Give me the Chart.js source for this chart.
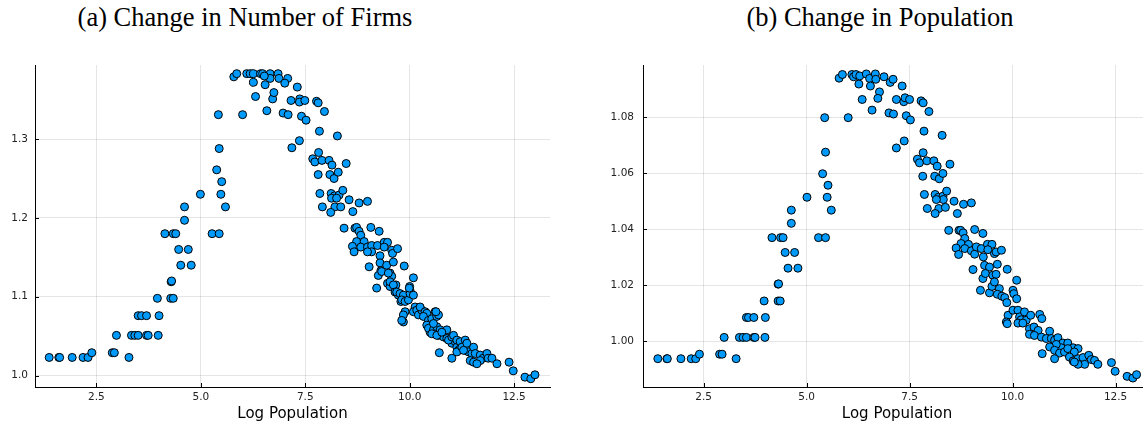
<!DOCTYPE html>
<html><head><meta charset="utf-8">
<script src="https://cdn.jsdelivr.net/npm/chart.js@4/dist/chart.umd.min.js"></script>
<style>
html,body{margin:0;padding:0;background:#fff;width:1143px;height:427px;overflow:hidden;position:relative}
.title{position:absolute;top:1px;font-family:"Liberation Serif",serif;font-size:26.5px;line-height:32px;color:#000;white-space:nowrap;transform:translateX(-50%)}
canvas{position:absolute;top:0}
</style></head><body>
<div class="title" id="tA" style="left:245px"></div>
<div class="title" id="tB" style="left:880px"></div>
<canvas id="cA" width="560" height="427" style="left:0px"></canvas>
<canvas id="cB" width="560" height="427" style="left:600px"></canvas>
<script>
const titles = ["(a) Change in Number of Firms", "(b) Change in Population"];
const xLabel = "Log Population";
const xTicks = [2.5, 5.0, 7.5, 10.0, 12.5];
const yTicksA = [1.0, 1.1, 1.2, 1.3];
const yTicksB = [1.00, 1.02, 1.04, 1.06, 1.08];

// Panel (a): Log population vs change in number of firms
const xA = [1.37,1.60,1.62,1.92,2.18,2.30,2.39,2.88,2.93,3.28,
2.98,3.34,3.42,3.50,3.70,3.74,3.98,3.50,3.58,3.70,4.00,3.96,4.28,4.34,4.29,4.30,4.52,4.77,4.47,4.70,
4.14,4.34,4.40,5.27,5.44,4.61,4.61,5.59,4.99,5.48,5.50,5.38,5.44,5.42,6.00,6.58,6.31,6.72,6.75,6.54,
6.26,5.79,5.86,6.10,6.18,6.26,6.43,6.48,6.66,6.85,6.66,6.52,6.87,7.08,7.01,7.31,7.16,7.37,7.36,7.49,
7.77,7.81,7.96,6.97,7.09,7.41,7.52,7.84,8.27,7.36,7.18,7.82,7.68,7.73,7.90,8.07,8.14,8.48,7.81,8.09,
8.19,8.29,7.85,8.12,8.20,8.31,8.40,8.13,8.25,8.55,8.79,8.99,7.91,8.21,8.35,8.11,8.64,8.43,8.69,8.73,
9.07,9.27,8.79,8.83,8.73,8.63,8.67,8.91,8.83,8.99,9.09,9.09,8.99,9.23,9.39,9.47,9.39,9.57,9.59,9.71,
9.29,9.03,9.29,9.31,9.25,9.45,9.61,9.87,9.53,9.57,10.09,9.21,9.47,9.53,9.67,10.00,9.33,9.49,9.53,9.61,
9.65,9.73,9.79,9.89,10.01,9.69,9.77,9.85,9.81,9.89,9.97,10.01,9.99,10.09,9.89,9.85,9.85,9.81,10.13,10.09,
10.17,10.21,10.29,10.25,10.37,10.41,10.33,10.45,10.53,10.61,10.65,10.69,10.63,10.41,10.49,10.45,10.57,10.65,10.73,10.69,
10.77,10.89,10.81,10.89,10.97,11.01,11.09,11.13,11.17,11.21,11.29,11.33,11.37,11.41,10.71,11.01,11.13,10.57,10.53,10.65,
10.77,10.93,11.01,11.05,11.13,11.21,11.25,11.33,11.37,11.29,11.49,11.53,11.57,11.69,11.76,11.85,11.88,11.97,12.09,11.45,
11.53,11.69,11.61,12.38,12.48,12.76,12.90,13.00];
const yA = [1.023,1.023,1.023,1.023,1.023,1.023,1.029,1.029,1.029,1.023,
1.051,1.051,1.051,1.051,1.051,1.051,1.051,1.076,1.076,1.076,1.076,1.098,1.098,1.098,1.119,1.120,1.140,1.140,1.160,1.160,
1.180,1.180,1.180,1.180,1.180,1.197,1.214,1.214,1.230,1.230,1.246,1.261,1.288,1.331,1.331,1.336,1.354,1.351,1.359,1.369,
1.372,1.379,1.383,1.383,1.383,1.383,1.383,1.383,1.383,1.383,1.377,1.380,1.377,1.377,1.371,1.366,1.349,1.351,1.347,1.349,
1.348,1.346,1.335,1.333,1.331,1.329,1.324,1.310,1.304,1.298,1.289,1.283,1.275,1.271,1.273,1.273,1.267,1.269,1.255,1.255,
1.250,1.258,1.231,1.231,1.228,1.229,1.235,1.225,1.225,1.223,1.219,1.221,1.214,1.214,1.214,1.207,1.208,1.187,1.187,1.188,
1.188,1.183,1.183,1.178,1.170,1.164,1.157,1.170,1.163,1.163,1.165,1.157,1.157,1.165,1.169,1.169,1.163,1.159,1.155,1.161,
1.152,1.138,1.143,1.133,1.127,1.140,1.144,1.139,1.130,1.126,1.124,1.111,1.117,1.113,1.115,1.113,1.132,1.130,1.119,1.115,
1.106,1.102,1.094,1.098,1.108,1.106,1.104,1.102,1.096,1.094,1.096,1.104,1.111,1.102,1.081,1.077,1.068,1.070,1.087,1.081,
1.083,1.077,1.083,1.087,1.081,1.079,1.075,1.070,1.072,1.081,1.075,1.077,1.081,1.064,1.055,1.060,1.058,1.062,1.058,1.051,
1.053,1.058,1.049,1.047,1.045,1.041,1.043,1.036,1.032,1.034,1.039,1.032,1.036,1.030,1.029,1.022,1.030,1.066,1.053,1.051,
1.055,1.045,1.049,1.051,1.045,1.043,1.036,1.045,1.041,1.032,1.028,1.036,1.028,1.026,1.022,1.028,1.022,1.022,1.015,1.019,
1.017,1.019,1.015,1.017,1.006,0.998,0.996,1.001];

// Panel (b): Log population vs change in population
const xB = [1.39,1.61,1.62,1.95,2.20,2.31,3.29,2.40,2.89,2.95,
3.00,3.37,3.46,3.54,3.72,3.75,3.99,3.54,3.59,3.72,4.00,3.97,4.31,4.36,4.31,4.32,4.55,4.79,4.48,4.71,
4.16,4.37,4.43,5.29,5.46,4.63,4.63,5.60,5.01,5.50,5.52,5.39,5.46,5.44,6.01,
6.35,6.27,5.79,5.87,6.10,6.14,6.20,6.29,6.45,6.53,6.67,6.68,6.88,7.03,7.10,7.32,6.55,6.77,6.73,6.59,
7.18,7.36,7.39,7.50,7.78,7.83,7.97,7.00,7.11,7.42,7.52,7.85,8.29,7.37,7.18,7.83,
7.69,7.74,7.92,8.09,8.17,8.48,7.82,8.11,8.22,8.31,
7.86,8.12,8.20,8.31,8.40,8.32,8.15,8.58,8.81,9.00,7.93,8.21,8.37,8.12,8.66,
8.45,8.70,8.74,9.08,9.28,8.80,8.84,8.75,8.93,
8.63,8.69,8.84,9.00,9.08,9.12,9.24,9.39,9.50,9.40,9.56,9.60,9.73,9.04,9.29,9.32,9.44,9.63,9.28,9.34,
9.52,9.60,9.87,9.22,9.44,9.50,9.56,9.68,9.63,9.74,9.81,9.86,10.01,10.03,10.10,10.10,9.89,9.85,9.87,10.01,
10.13,10.17,10.29,10.21,10.33,10.44,10.66,10.71,10.13,10.25,10.41,10.52,10.62,10.41,10.53,10.70,10.90,10.82,10.94,11.02,
11.10,11.22,11.34,11.47,11.59,11.18,11.06,10.90,11.02,11.14,11.26,11.34,11.50,11.38,11.47,11.59,11.71,11.85,11.91,11.99,
12.07,11.75,11.59,11.50,11.02,10.72,12.40,12.49,12.78,12.92,13.01];
const yB = [0.9938,0.9938,0.9938,0.9938,0.9938,0.9938,0.9938,0.9954,0.9954,0.9954,
1.0014,1.0014,1.0014,1.0014,1.0014,1.0014,1.0014,1.0085,1.0085,1.0085,1.0085,1.0144,1.0144,1.0144,1.0204,1.0205,1.0261,1.0261,1.0317,1.0317,
1.0370,1.0370,1.0370,1.0370,1.0370,1.0421,1.0468,1.0468,1.0514,1.0514,1.0557,1.0598,1.0675,1.0798,1.0798,
1.0863,1.0918,1.0939,1.0952,1.0952,1.0944,1.0952,1.0947,1.0954,1.0938,1.0954,1.0935,1.0944,1.0924,1.0935,1.0911,1.0911,1.0890,1.0867,1.0825,
1.0863,1.0855,1.0869,1.0863,1.0858,1.0851,1.0820,1.0815,1.0811,1.0805,1.0790,1.0750,1.0735,1.0715,1.0690,1.0673,
1.0650,1.0637,1.0644,1.0644,1.0625,1.0632,1.0589,1.0589,1.0580,1.0599,
1.0524,1.0524,1.0514,1.0518,1.0536,1.0506,1.0506,1.0500,1.0489,1.0494,1.0474,1.0474,1.0478,1.0456,1.0456,
1.0396,1.0396,1.0396,1.0399,1.0385,1.0387,1.0367,1.0349,1.0346,
1.0333,1.0310,1.0331,1.0323,1.0311,1.0337,1.0331,1.0346,1.0346,1.0327,1.0313,1.0319,1.0325,1.0256,1.0301,1.0271,1.0265,1.0275,1.0224,1.0242,
1.0236,1.0239,1.0257,1.0182,1.0173,1.0196,1.0212,1.0188,1.0168,1.0161,1.0156,1.0138,1.0182,1.0170,1.0152,1.0218,1.0093,1.0069,1.0063,1.0111,
1.0111,1.0087,1.0105,1.0077,1.0075,1.0093,1.0096,1.0081,1.0065,1.0065,1.0045,1.0051,1.0039,1.0025,1.0021,1.0015,1.0036,1.0010,1.0010,1.0004,
1.0013,0.9994,0.9994,0.9977,0.9974,0.9977,0.9989,0.9980,0.9968,0.9958,0.9962,0.9974,0.9962,0.9944,0.9930,0.9938,0.9942,0.9950,0.9935,0.9932,
0.9918,0.9918,0.9918,0.9926,0.9938,0.9956,0.9924,0.9893,0.9875,0.9869,0.9881];

document.getElementById('tA').textContent = titles[0];
document.getElementById('tB').textContent = titles[1];

const inwardTicks = {
  id: 'inwardTicks',
  beforeDatasetsDraw(chart) {
    const ctx = chart.ctx, xs = chart.scales.x, ys = chart.scales.y, a = chart.chartArea;
    ctx.save();
    ctx.strokeStyle = '#000';
    ctx.lineWidth = 1;
    ctx.beginPath();
    xs.ticks.forEach(t => {
      const p = Math.round(xs.getPixelForValue(t.value)) + 0.5;
      ctx.moveTo(p, a.bottom); ctx.lineTo(p, a.bottom - 4);
    });
    ys.ticks.forEach(t => {
      const p = Math.round(ys.getPixelForValue(t.value)) + 0.5;
      ctx.moveTo(a.left, p); ctx.lineTo(a.left + 4, p);
    });
    ctx.stroke();
    ctx.restore();
  }
};

function makeChart(id, xs, ys, yTicks, yDec, yMin, yMax, yAxisWidth, padRight, yPad) {
  const tickFont = {family: 'DejaVu Sans', size: 10.5};
  new Chart(document.getElementById(id), {
    type: 'scatter',
    data: {datasets: [{
      data: xs.map((x, i) => ({x: x, y: ys[i]})),
      backgroundColor: '#009AFA',
      borderColor: '#000',
      borderWidth: 1,
      pointRadius: 4,
      pointHoverRadius: 4
    }]},
    options: {
      responsive: false,
      animation: false,
      devicePixelRatio: 1,
      layout: {padding: {top: 65, right: padRight, bottom: 0, left: 0}},
      plugins: {legend: {display: false}, tooltip: {enabled: false}},
      scales: {
        x: {
          type: 'linear', min: 1.03, max: 13.36,
          afterBuildTicks: s => { s.ticks = xTicks.map(v => ({value: v})); },
          afterFit: s => { s.height = 40; },
          ticks: {callback: v => v.toFixed(1), font: tickFont, color: '#222', padding: 4, maxRotation: 0, autoSkip: false},
          grid: {color: 'rgba(0,0,0,0.1)', drawTicks: false},
          border: {display: true, color: '#000', width: 1},
          title: {display: true, text: xLabel, font: {family: 'DejaVu Sans', size: 15}, color: '#000', padding: {top: 4, bottom: 4}}
        },
        y: {
          type: 'linear', min: yMin, max: yMax,
          afterBuildTicks: s => { s.ticks = yTicks.map(v => ({value: v})); },
          afterFit: s => { s.width = yAxisWidth; },
          ticks: {callback: v => v.toFixed(yDec), font: tickFont, color: '#222', padding: yPad, autoSkip: false},
          grid: {color: 'rgba(0,0,0,0.1)', drawTicks: false},
          border: {display: true, color: '#000', width: 1}
        }
      }
    },
    plugins: [inwardTicks]
  });
}

makeChart('cA', xA, yA, yTicksA, 1, 0.9855, 1.394, 35, 10, 7);
makeChart('cB', xB, yB, yTicksB, 2, 0.9837, 1.0986, 43, 9, 9);
</script>
</body></html>
